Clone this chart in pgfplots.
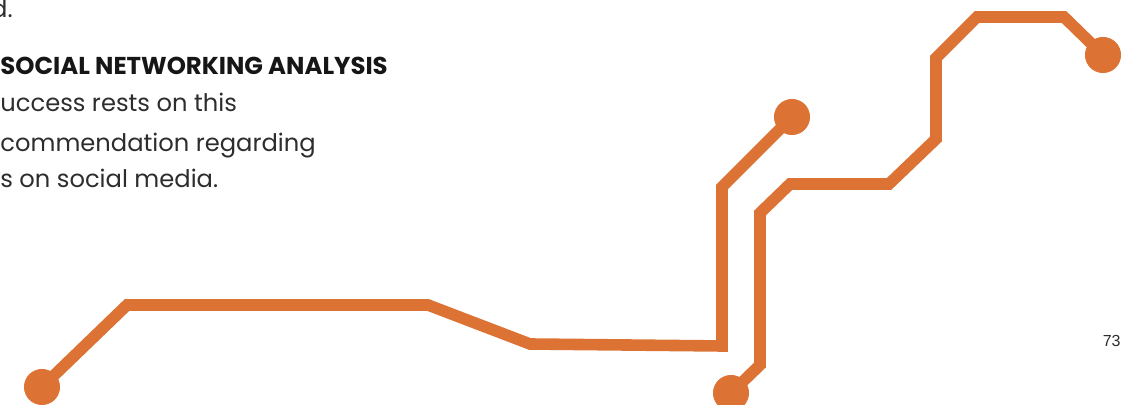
\documentclass[border=0pt]{standalone}
\usepackage{pgfplots}
\pgfplotsset{compat=1.18}
\usepackage{fontspec}
\setmainfont{Poppins}
\newfontfamily\numfont{Liberation Sans}
\definecolor{lineorange}{RGB}{220,115,52}
\definecolor{bodytext}{RGB}{45,45,45}
\definecolor{headtext}{RGB}{22,22,22}
\begin{document}
\begin{tikzpicture}
\path[use as bounding box, clip] (0,0) rectangle (567pt,202.5pt);
\begin{axis}[
  at={(0,0)}, anchor=south west,
  scale only axis, width=567pt, height=202.5pt,
  xmin=0, xmax=1134, ymin=0, ymax=405,
  hide axis, clip=false,
]
% line 1 (pixel coords, y measured from bottom)
\addplot[lineorange, line width=5.8pt, line join=miter, line cap=butt, no marks]
 coordinates {(42,18) (127,100) (428,100) (530,61) (722,59) (722,218) (792,288)};
\addplot[only marks, mark=*, mark size=8.8pt, lineorange, mark options={draw=lineorange, fill=lineorange}]
 coordinates {(42,18) (792,288)};
% line 2
\addplot[lineorange, line width=5.8pt, line join=miter, line cap=butt, no marks]
 coordinates {(731,12) (760,40) (760,192) (790,221) (889,221) (936,266) (936,347) (977,388) (1064,388) (1103,350)};
\addplot[only marks, mark=*, mark size=8.8pt, lineorange, mark options={draw=lineorange, fill=lineorange}]
 coordinates {(731,12) (1103,350)};
% text
\node[anchor=base east, inner sep=0pt, font=\fontsize{12.1}{14}\selectfont, text=bodytext] at (axis cs:13,387) {d.};
\node[anchor=base west, inner sep=0pt, font=\fontsize{12.2}{14}\selectfont\bfseries, text=headtext] at (axis cs:0,330) {SOCIAL NETWORKING ANALYSIS};
\node[anchor=base west, inner sep=0pt, font=\fontsize{12.1}{14}\selectfont, text=bodytext] at (axis cs:0,293) {uccess rests on this};
\node[anchor=base west, inner sep=0pt, font=\fontsize{12.1}{14}\selectfont, text=bodytext] at (axis cs:0,253) {commendation regarding};
\node[anchor=base west, inner sep=0pt, font=\fontsize{12.1}{14}\selectfont, text=bodytext] at (axis cs:0,217) {s on social media.};
\node[anchor=base east, inner sep=0pt, font=\numfont\fontsize{8}{9}\selectfont, text=bodytext] at (axis cs:1121,58) {73};
\end{axis}
\end{tikzpicture}
\end{document}
